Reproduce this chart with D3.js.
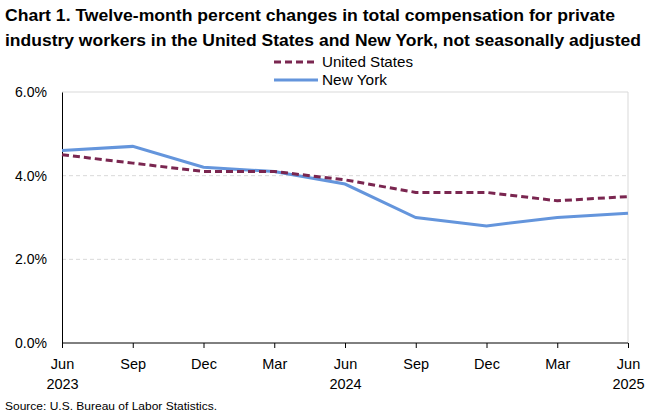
<!DOCTYPE html>
<html>
<head>
<meta charset="utf-8">
<script src="https://cdn.jsdelivr.net/npm/d3@7"></script>
<style>
body { margin: 0; background: #fff; }
text { font-family: "Liberation Sans", Arial, sans-serif; }
</style>
</head>
<body>
<script>
var months = ["Jun", "Sep", "Dec", "Mar", "Jun", "Sep", "Dec", "Mar", "Jun"];
var years = ["2023", "", "", "", "2024", "", "", "", "2025"];
var unitedStates = [4.5, 4.3, 4.1, 4.1, 3.9, 3.6, 3.6, 3.4, 3.5];
var newYork = [4.6, 4.7, 4.2, 4.1, 3.8, 3.0, 2.8, 3.0, 3.1];
var yTicks = [0, 2, 4, 6];

var width = 668, height = 413;
var plotLeft = 62, plotRight = 628, plotTop = 92, plotBottom = 343;
var labelFont = "'Liberation Sans', Arial, sans-serif";

var svg = d3.select("body").append("svg").attr("width", width).attr("height", height);

// title
var title = svg.append("g").attr("font-weight", "bold").attr("font-size", 16.5).attr("fill", "#000");
title.append("text").attr("x", 5).attr("y", 21).attr("textLength", 610).attr("lengthAdjust", "spacingAndGlyphs")
	.text("Chart 1. Twelve-month percent changes in total compensation for private");
title.append("text").attr("x", 5).attr("y", 46).attr("textLength", 636).attr("lengthAdjust", "spacingAndGlyphs")
	.text("industry workers in the United States and New York, not seasonally adjusted");

var x = d3.scalePoint().domain(d3.range(months.length)).range([plotLeft, plotRight]);
var y = d3.scaleLinear().domain([0, 6]).range([plotBottom, plotTop]);

// grid
svg.append("g").selectAll("line").data([2, 4]).enter().append("line")
	.attr("x1", plotLeft).attr("x2", plotRight)
	.attr("y1", function(d){return y(d);}).attr("y2", function(d){return y(d);})
	.attr("stroke", "#d9d9d9").attr("stroke-dasharray", "4,3");
svg.append("line").attr("x1", plotLeft).attr("x2", plotRight).attr("y1", y(6)).attr("y2", y(6)).attr("stroke", "#d9d9d9");
svg.append("line").attr("x1", plotRight).attr("x2", plotRight).attr("y1", y(6)).attr("y2", y(0)).attr("stroke", "#d9d9d9");

// y axis
var yAxis = d3.axisLeft(y).tickValues(yTicks).tickSize(0).tickPadding(15)
	.tickFormat(function(d){return d.toFixed(1) + "%";});
var yAxisGroup = svg.append("g").attr("transform", "translate(" + plotLeft + ",0)").call(yAxis);
yAxisGroup.select(".domain").attr("stroke", "#000");
yAxisGroup.selectAll("text").attr("font-size", 14.5).attr("fill", "#000").attr("font-family", labelFont)
	.attr("textLength", 32).attr("lengthAdjust", "spacingAndGlyphs");

// x axis
var xAxis = d3.axisBottom(x).tickSize(5).tickPadding(11).tickFormat(function(d){return months[d];});
var xAxisGroup = svg.append("g").attr("transform", "translate(0," + plotBottom + ")").call(xAxis);
xAxisGroup.select(".domain").attr("d", "M" + plotLeft + ",0H" + plotRight).attr("stroke", "#000");
xAxisGroup.selectAll("line").attr("stroke", "#000");
xAxisGroup.selectAll("text").attr("font-size", 14.5).attr("fill", "#000").attr("font-family", labelFont);
xAxisGroup.selectAll(".tick").append("text")
	.attr("y", 36).attr("dy", "0.71em").attr("text-anchor", "middle").attr("fill", "#000")
	.attr("font-size", 14.5).attr("font-family", labelFont)
	.text(function(d){return years[d];});

// lines
var line = d3.line().x(function(d, i){return x(i);}).y(function(d){return y(d);});
svg.append("path").datum(newYork).attr("d", line).attr("fill", "none")
	.attr("stroke", "#6495dc").attr("stroke-width", 3);
svg.append("path").datum(unitedStates).attr("d", line).attr("fill", "none")
	.attr("stroke", "#7a2650").attr("stroke-width", 3).attr("stroke-dasharray", "7,4");

// legend
var legend = svg.append("g").attr("font-size", 14.5).attr("font-family", labelFont);
legend.append("line").attr("x1", 274).attr("x2", 318).attr("y1", 62).attr("y2", 62)
	.attr("stroke", "#7a2650").attr("stroke-width", 3).attr("stroke-dasharray", "7,4");
legend.append("text").attr("x", 322).attr("y", 67).attr("textLength", 91).attr("lengthAdjust", "spacingAndGlyphs").text("United States");
legend.append("line").attr("x1", 274).attr("x2", 318).attr("y1", 80).attr("y2", 80)
	.attr("stroke", "#6495dc").attr("stroke-width", 3);
legend.append("text").attr("x", 322).attr("y", 85).attr("textLength", 65).attr("lengthAdjust", "spacingAndGlyphs").text("New York");

// source
svg.append("text").attr("x", 5).attr("y", 410).attr("font-size", 11).attr("font-family", labelFont)
	.attr("textLength", 212).attr("lengthAdjust", "spacingAndGlyphs")
	.text("Source: U.S. Bureau of Labor Statistics.");
</script>
</body>
</html>
